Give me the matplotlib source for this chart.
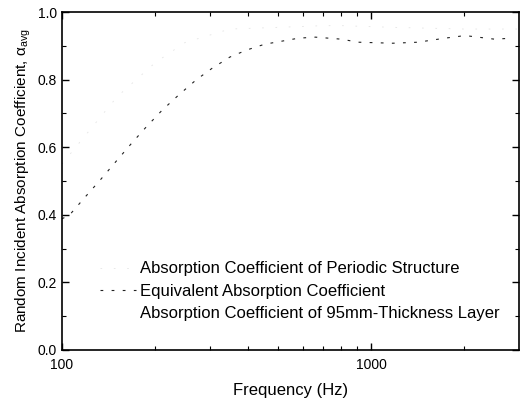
import matplotlib.pyplot as plt
from matplotlib.ticker import FixedLocator, NullFormatter, MultipleLocator

plt.rcParams['font.family'] = ['Liberation Sans', 'DejaVu Sans']

# equivalent absorption coefficient (dotted curve)
freq_eq = [100, 106, 119, 133, 148, 167, 186, 211, 238, 272, 306, 349, 396,
           452, 513, 582, 660, 800, 908, 1173, 1416, 1730, 1944, 2079, 2501, 2856]
alpha_eq = [0.388, 0.40, 0.453, 0.503, 0.553, 0.609, 0.657, 0.71, 0.754, 0.80,
            0.834, 0.867, 0.888, 0.905, 0.914, 0.923, 0.926, 0.92, 0.911, 0.908,
            0.911, 0.923, 0.929, 0.929, 0.92, 0.923]

# periodic structure (barely visible in the scan)
freq_per = [100, 128, 151, 200, 250, 349, 500, 700, 800, 1175, 2000, 3000]
alpha_per = [0.55, 0.67, 0.75, 0.85, 0.91, 0.95, 0.955, 0.96, 0.96, 0.955, 0.95, 0.95]

fig = plt.figure(figsize=(5.2, 4.05), dpi=100)
ax = fig.add_axes([0.119, 0.136, 0.879, 0.834])

ax.plot(freq_per, alpha_per, color='#e4e4e4', lw=0.6, ls=(0, (2, 14)),
        label='Absorption Coefficient of Periodic Structure')
ax.plot(freq_eq, alpha_eq, color='#222222', lw=0.8, ls=(0, (2.5, 7.5)),
        label='Equivalent Absorption Coefficient')
ax.plot([], [], color='white', lw=0.6,
        label='Absorption Coefficient of 95mm-Thickness Layer')

ax.set_xscale('log')
ax.set_xlim(100, 3000)
ax.set_ylim(0, 1.0)
ax.xaxis.set_major_locator(FixedLocator([100, 1000]))
ax.xaxis.set_minor_locator(FixedLocator([200, 300, 400, 500, 600, 700, 800, 900, 2000]))
ax.xaxis.set_minor_formatter(NullFormatter())
ax.set_xticklabels(['100', '1000'])
ax.yaxis.set_major_locator(MultipleLocator(0.2))
ax.yaxis.set_minor_locator(MultipleLocator(0.1))
ax.yaxis.set_major_formatter(plt.FormatStrFormatter('%.1f'))

ax.tick_params(which='both', direction='in', top=True, right=True, labelsize=10)
ax.tick_params(which='major', length=5, width=1)
ax.tick_params(which='minor', length=3, width=0.8)
ax.tick_params(axis='x', pad=6)
for s in ax.spines.values():
    s.set_linewidth(1.2)

ax.set_xlabel('Frequency (Hz)', fontsize=12, labelpad=8)
ax.set_ylabel(r'Random Incident Absorption Coefficient, $\mathregular{\alpha_{avg}}$',
              fontsize=11, labelpad=3)

ax.legend(loc='upper left', bbox_to_anchor=(0.083, 0.262), frameon=False,
          fontsize=12, borderpad=0, borderaxespad=0, labelspacing=0.45,
          handlelength=2.2, handletextpad=0.2)

fig.savefig('out.png', dpi=100)
